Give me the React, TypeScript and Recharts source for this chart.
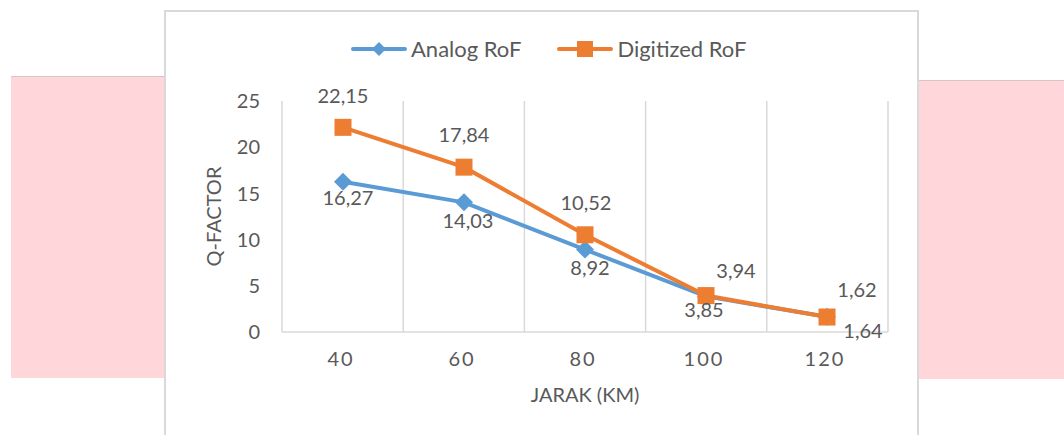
import { LineChart, Line, XAxis, YAxis, CartesianGrid, Legend, LabelList } from "recharts";

const JARAK = [40, 60, 80, 100, 120];
const ANALOG = [16.27, 14.03, 8.92, 3.85, 1.64];
const DIGITIZED = [22.15, 17.84, 10.52, 3.94, 1.62];
const Y_TICKS = [0, 5, 10, 15, 20, 25];

const BLUE = "#5b9bd5";
const ORANGE = "#ed7d31";
const TEXT = "#595959";
const GRID = "#d9d9d9";
const FONT = "Lato, 'Open Sans', sans-serif";

const data = JARAK.map((j, i) => ({ jarak: j, analog: ANALOG[i], digitized: DIGITIZED[i] }));

// label nudges, roughly where Excel put them
const ANALOG_OFFSET = [[5, 15], [4, 18], [5, 17], [-2, 13], [36, 13]];
const DIGI_OFFSET = [[0, -32], [0, -33], [1, -33], [30, -26], [30, -28]];

const fmt = (v: number) => v.toFixed(2).replace(".", ",");

function makeLabel(offsets: number[][]) {
  return (props: any) => {
    const { x, y, value, index } = props;
    const [dx, dy] = offsets[index] ?? [0, 0];
    return (
      <text
        x={x + dx}
        y={y + dy}
        textAnchor="middle"
        dominantBaseline="central"
        fill={TEXT}
        fontSize={20}
        fontFamily={FONT}
      >
        {fmt(value)}
      </text>
    );
  };
}

function Diamond(props: any) {
  const { cx, cy } = props;
  if (cx == null || cy == null) return null;
  const r = 9;
  return <path d={`M${cx},${cy - r}L${cx + r},${cy}L${cx},${cy + r}L${cx - r},${cy}Z`} fill={BLUE} />;
}

function Square(props: any) {
  const { cx, cy } = props;
  if (cx == null || cy == null) return null;
  const r = 8.5;
  return <rect x={cx - r} y={cy - r} width={r * 2} height={r * 2} fill={ORANGE} />;
}

// category separators: 5 equal bands across the plot
const bandLines = ({ offset }: any) =>
  JARAK.map((_, i) => offset.left + (i * offset.width) / JARAK.length).concat(offset.left + offset.width);

function LegendContent() {
  const item = (color: string, marker: "diamond" | "square", label: string) => (
    <div style={{ display: "flex", alignItems: "center" }}>
      <svg width={56} height={20}>
        <line x1={2} y1={10} x2={54} y2={10} stroke={color} strokeWidth={4} strokeLinecap="round" />
        {marker === "diamond" ? (
          <path d="M28,3L35,10L28,17L21,10Z" fill={color} />
        ) : (
          <rect x={20} y={2} width={16} height={16} fill={color} />
        )}
      </svg>
      <span style={{ marginLeft: 4, color: TEXT, fontSize: 22, fontFamily: FONT }}>{label}</span>
    </div>
  );
  return (
    <div style={{ display: "flex", alignItems: "center", gap: 36 }}>
      {item(BLUE, "diamond", "Analog RoF")}
      {item(ORANGE, "square", "Digitized RoF")}
    </div>
  );
}

export default function App() {
  return (
    <div
      style={{
        position: "absolute",
        left: 0,
        top: 0,
        width: 1064,
        height: 435,
        background: "#fff",
        overflow: "hidden",
      }}
    >
      {/* pink blocks behind */}
      <div
        style={{
          position: "absolute",
          left: 11,
          top: 76,
          width: 154,
          height: 301,
          background: "#ffd7da",
          borderTop: "1px solid #d8c4c6",
        }}
      />
      <div
        style={{
          position: "absolute",
          left: 917,
          top: 80,
          width: 147,
          height: 298,
          background: "#ffd7da",
          borderTop: "1px solid #d8c4c6",
        }}
      />
      {/* chart frame */}
      <div
        style={{
          position: "absolute",
          left: 164,
          top: 10,
          width: 751,
          height: 440,
          background: "#fff",
          border: `2px solid ${GRID}`,
        }}
      />

      <div style={{ position: "absolute", left: 0, top: 0 }}>
        <LineChart
          width={1064}
          height={435}
          data={data}
          margin={{ top: 101, right: 176, bottom: 23, left: 192 }}
        >
          <CartesianGrid
            horizontal={false}
            stroke={GRID}
            strokeWidth={1.5}
            verticalCoordinatesGenerator={bandLines}
          />
          <XAxis
            dataKey="jarak"
            padding={{ left: 61, right: 61 }}
            axisLine={{ stroke: GRID, strokeWidth: 1.5 }}
            tickLine={false}
            tickSize={0}
            tickMargin={20}
            height={80}
            tick={{ fill: TEXT, fontSize: 20, fontFamily: FONT, letterSpacing: 2, dx: -2 }}
            label={{
              value: "JARAK (KM)",
              position: "insideBottom",
              offset: 10,
              fill: TEXT,
              fontSize: 20,
              fontFamily: FONT,
            }}
          />
          <YAxis
            domain={[0, 25]}
            ticks={Y_TICKS}
            width={90}
            axisLine={false}
            tickLine={false}
            tickSize={0}
            tickMargin={22}
            tick={{ fill: TEXT, fontSize: 20, fontFamily: FONT }}
            label={{
              value: "Q-FACTOR",
              angle: -90,
              position: "insideLeft",
              offset: 22,
              textAnchor: "middle",
              fill: TEXT,
              fontSize: 20,
              fontFamily: FONT,
            }}
          />
          <Legend
            verticalAlign="middle"
            align="center"
            layout="horizontal"
            content={<LegendContent />}
            wrapperStyle={{ top: 35, left: 351, width: "auto" }}
          />
          <Line
            dataKey="analog"
            name="Analog RoF"
            stroke={BLUE}
            strokeWidth={4}
            dot={<Diamond />}
            activeDot={false}
            isAnimationActive={false}
          >
            <LabelList dataKey="analog" content={makeLabel(ANALOG_OFFSET)} />
          </Line>
          <Line
            dataKey="digitized"
            name="Digitized RoF"
            stroke={ORANGE}
            strokeWidth={4}
            dot={<Square />}
            activeDot={false}
            isAnimationActive={false}
          >
            <LabelList dataKey="digitized" content={makeLabel(DIGI_OFFSET)} />
          </Line>
        </LineChart>
      </div>
    </div>
  );
}
